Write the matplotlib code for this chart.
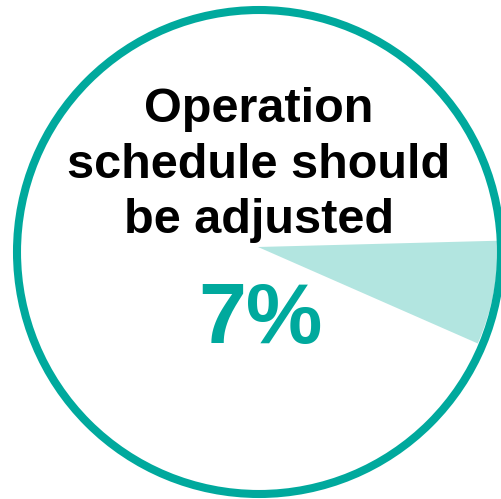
import matplotlib
matplotlib.use("Agg")
import matplotlib.pyplot as plt
from matplotlib.patches import Circle

# share of responses for the highlighted answer
label = "Operation\nschedule should\nbe adjusted"
shares = [7, 93]
pct_text = "7%"

teal = "#00a99d"
light_teal = "#b2e5e0"

fig = plt.figure(figsize=(5.01, 4.99), dpi=100)
ax = fig.add_axes([0, 0, 1, 1])
ax.set_aspect("equal")
ax.axis("off")

# slice for the answer share, starting just above horizontal and running clockwise
ax.pie(shares, colors=[light_teal, "none"], startangle=1.5, counterclock=False,
       center=(258, 252), radius=240, wedgeprops=dict(linewidth=0))

# outer ring
ax.add_patch(Circle((259, 247), 242, fill=False, edgecolor=teal, linewidth=5.8))

ax.text(259, 412, label, ha="center", va="top", fontsize=35, fontweight="bold",
        family="Liberation Sans", color="black", linespacing=1.3)
ax.text(260, 178, pct_text, ha="center", va="center", fontsize=62,
        fontweight="bold", family="Liberation Sans", color=teal)

ax.set_xlim(0, 501)
ax.set_ylim(0, 499)
fig.savefig("out.png", dpi=100)
